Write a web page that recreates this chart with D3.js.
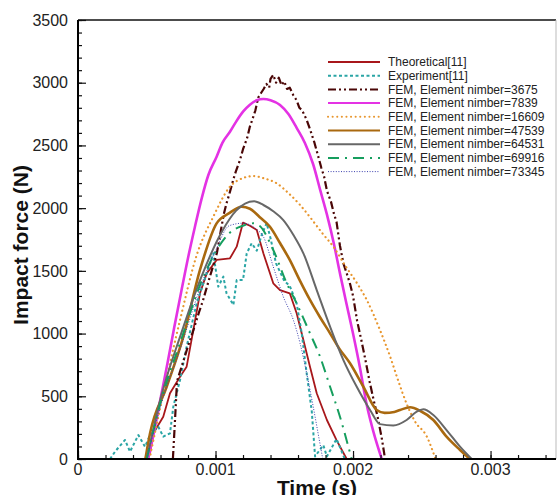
<!DOCTYPE html>
<html lang="en">

<head>
    <meta charset="utf-8">
    <title>impact force</title>
    <script src="https://cdn.jsdelivr.net/npm/d3@7/dist/d3.min.js"></script>
    <style>
        body { margin: 0; background: #fff; }
        text { font-family: Arial, "Liberation Sans", sans-serif; }
    </style>
</head>

<body>
    <script>
        // time in ms, force in N
        var theoretical = [[0.50, 0], [0.524, 48], [0.548, 205], [0.62, 337], [0.669, 524], [0.742, 656], [0.79, 736],
        [0.839, 1029], [0.887, 1321], [0.936, 1480], [1.008, 1587], [1.105, 1600], [1.154, 1693], [1.2, 1885],
        [1.25, 1860], [1.3, 1826], [1.348, 1640], [1.42, 1401], [1.469, 1347], [1.54, 1321], [1.59, 1162],
        [1.639, 949], [1.687, 736], [1.736, 524], [1.81, 311], [1.88, 151], [1.954, 0]];

        var experiment = [[0.233, 0], [0.27, 60], [0.342, 152], [0.378, 58], [0.439, 191], [0.487, 98], [0.524, 191],
        [0.584, 258], [0.62, 178], [0.669, 205], [0.693, 417], [0.742, 630], [0.79, 896], [0.863, 1241],
        [0.936, 1480], [0.984, 1640], [1.02, 1374], [1.057, 1454], [1.08, 1321], [1.13, 1228], [1.154, 1427],
        [1.2, 1427], [1.227, 1640], [1.263, 1720], [1.3, 1660], [1.34, 1800], [1.372, 1880], [1.40, 1760],
        [1.44, 1560], [1.50, 1420], [1.54, 1380], [1.59, 1240], [1.627, 1002], [1.663, 683], [1.70, 380],
        [1.724, 20], [1.75, 60], [1.784, 110], [1.81, 20], [1.88, 160], [1.94, 0]];

        var fem3675 = [[0.69, 0], [0.705, 300], [0.72, 620], [0.76, 760], [0.80, 900], [0.84, 1030], [0.88, 1170],
        [0.91, 1268], [0.95, 1420], [0.98, 1530], [1.01, 1642], [1.04, 1830], [1.06, 1950], [1.08, 2039],
        [1.10, 2110], [1.13, 2230], [1.15, 2300], [1.178, 2384], [1.20, 2470], [1.23, 2560], [1.25, 2650],
        [1.275, 2729], [1.29, 2780], [1.31, 2880], [1.33, 2916], [1.35, 2950], [1.37, 2990], [1.39, 2960],
        [1.40, 3030], [1.42, 3062], [1.44, 3000], [1.46, 3040], [1.48, 2980], [1.50, 3010], [1.52, 2950],
        [1.54, 2960], [1.566, 2900], [1.59, 2860], [1.61, 2800], [1.63, 2780], [1.663, 2703], [1.69, 2620],
        [1.72, 2520], [1.75, 2400], [1.77, 2320], [1.79, 2250], [1.81, 2140], [1.84, 2050], [1.86, 1960],
        [1.88, 1890], [1.905, 1700], [1.93, 1560], [1.96, 1460], [1.98, 1390], [2.0, 1300], [2.03, 1100],
        [2.06, 950], [2.09, 790], [2.12, 620], [2.15, 470], [2.18, 330], [2.21, 160], [2.233, 0]];

        var fem7839 = [[0.51, 0], [0.55, 200], [0.60, 480], [0.65, 760], [0.70, 1050], [0.75, 1330], [0.802, 1613],
        [0.85, 1850], [0.90, 2080], [0.948, 2264], [1.008, 2410], [1.05, 2520], [1.105, 2609], [1.15, 2690],
        [1.2, 2769], [1.25, 2825], [1.30, 2860], [1.348, 2870], [1.40, 2860], [1.469, 2822], [1.53, 2750],
        [1.59, 2640], [1.65, 2520], [1.71, 2350], [1.76, 2150], [1.81, 1950], [1.86, 1720], [1.905, 1480],
        [1.95, 1250], [2.0, 1000], [2.05, 730], [2.1, 430], [2.15, 210], [2.209, 0]];

        var fem16609 = [[0.52, 0], [0.6, 420], [0.742, 1108], [0.863, 1625], [0.984, 1932], [1.105, 2171],
        [1.2, 2240], [1.275, 2256], [1.36, 2235], [1.445, 2198], [1.53, 2120], [1.615, 2025], [1.70, 1910],
        [1.784, 1790], [1.857, 1693], [1.95, 1530], [2.03, 1400], [2.1, 1268], [2.196, 1028], [2.27, 816],
        [2.33, 620], [2.39, 440], [2.45, 300], [2.536, 180], [2.6, 0]];

        var fem47539 = [[0.49, 0], [0.524, 205], [0.645, 576], [0.766, 975], [0.887, 1507], [1.008, 1879],
        [1.1, 1960], [1.19, 2011], [1.25, 1995], [1.32, 1930], [1.396, 1852], [1.47, 1720], [1.54, 1587],
        [1.61, 1430], [1.687, 1268], [1.76, 1130], [1.833, 1002], [1.90, 880], [1.978, 763], [2.075, 576],
        [2.172, 391], [2.23, 368], [2.30, 375], [2.342, 391], [2.415, 412], [2.487, 385], [2.584, 311],
        [2.68, 178], [2.778, 72], [2.85, 0]];

        var fem64531 = [[0.50, 0], [0.6, 480], [0.75, 1000], [0.9, 1460], [1.05, 1820], [1.15, 1980], [1.28, 2055],
        [1.348, 2025], [1.42, 1975], [1.493, 1905], [1.57, 1780], [1.639, 1640], [1.736, 1347], [1.833, 1055],
        [1.93, 789], [2.027, 576], [2.124, 391], [2.196, 278], [2.293, 268], [2.39, 311], [2.463, 377],
        [2.511, 396], [2.584, 351], [2.68, 231], [2.778, 98], [2.863, 0]];

        var fem69916 = [[0.50, 0], [0.6, 450], [0.75, 950], [0.9, 1420], [1.0, 1650], [1.1, 1800], [1.2, 1860],
        [1.275, 1879], [1.32, 1860], [1.42, 1666], [1.518, 1401], [1.59, 1241], [1.687, 1002], [1.76, 816],
        [1.833, 576], [1.905, 337], [1.966, 98], [1.99, 0]];

        var fem73345 = [[0.50, 0], [0.6, 420], [0.75, 900], [0.9, 1400], [1.0, 1660], [1.1, 1860], [1.2, 1880],
        [1.3, 1830], [1.348, 1773], [1.42, 1533], [1.493, 1294], [1.566, 1108], [1.615, 922], [1.663, 683],
        [1.71, 420], [1.75, 180], [1.78, 0]];

        var seriesNames = ['Theoretical[11]', 'Experiment[11]', 'FEM, Element nimber=3675', 'FEM, Element nimber=7839',
            'FEM, Element nimber=16609', 'FEM, Element nimber=47539', 'FEM, Element nimber=64531',
            'FEM, Element nimber=69916', 'FEM, Element nimber=73345'];
        var seriesData = [theoretical, experiment, fem3675, fem7839, fem16609, fem47539, fem64531, fem69916, fem73345];

        var yTicks = [0, 500, 1000, 1500, 2000, 2500, 3000, 3500];
        var xTicks = [0, 1, 2, 3];
        var xTickLabels = ['0', '0.001', '0.002', '0.003'];

        var styles = [
            { color: '#a8171b', width: 1.8, dash: null, smooth: false },
            { color: '#2aa5a5', width: 2, dash: '3,2.5', smooth: false },
            { color: '#4a0606', width: 2.2, dash: '8,3,2,3,2,3', smooth: false },
            { color: '#e432e4', width: 2.6, dash: null, smooth: true },
            { color: '#e8962e', width: 2.2, dash: '0.1,4.5', cap: 'round', smooth: true },
            { color: '#a9690f', width: 2.6, dash: null, smooth: true },
            { color: '#676767', width: 2, dash: null, smooth: true },
            { color: '#169e5e', width: 2, dash: '11,6,2,6', smooth: true },
            { color: '#3b3fae', width: 1, dash: '1,1.6', smooth: true }
        ];

        var svgWidth = 558, svgHeight = 495;
        var plotLeft = 78, plotRight = 556, plotTop = 20, plotBottom = 459;

        var svg = d3.select('body')
            .append('svg')
            .attr('width', svgWidth)
            .attr('height', svgHeight);

        var x = d3.scaleLinear().domain([0, 3.476]).range([plotLeft, plotRight]);
        var y = d3.scaleLinear().domain([0, 3500]).range([plotBottom, plotTop]);

        svg.append('clipPath').attr('id', 'clip')
            .append('rect').attr('x', plotLeft).attr('y', plotTop)
            .attr('width', plotRight - plotLeft).attr('height', plotBottom - plotTop);

        function drawLines() {
            var line = d3.line().x(d => x(d[0])).y(d => y(d[1]));
            var smoothLine = d3.line().x(d => x(d[0])).y(d => y(d[1])).curve(d3.curveMonotoneX);
            svg.append('g')
                .attr('clip-path', 'url(#clip)')
                .selectAll('path')
                .data(seriesData)
                .enter().append('path')
                .attr('d', (d, i) => styles[i].smooth ? smoothLine(d) : line(d))
                .style('fill', 'none')
                .style('stroke', (d, i) => styles[i].color)
                .style('stroke-width', (d, i) => styles[i].width)
                .style('stroke-dasharray', (d, i) => styles[i].dash)
                .style('stroke-linecap', (d, i) => styles[i].cap || 'butt')
                .style('stroke-linejoin', 'round');
        }

        function drawAxes() {
            // frame
            svg.append('line').attr('x1', plotLeft).attr('x2', plotRight).attr('y1', plotTop).attr('y2', plotTop)
                .style('stroke', '#111').style('stroke-width', 1.5);
            svg.append('line').attr('x1', plotRight).attr('x2', plotRight).attr('y1', plotTop).attr('y2', plotBottom)
                .style('stroke', '#bbb').style('stroke-width', 1);

            // inward ticks
            var yAxis = d3.axisRight(y).tickValues(yTicks).tickSize(8).tickFormat('');
            var yMinor = d3.axisRight(y).tickValues(d3.range(0, 3501, 100)).tickSize(4).tickFormat('');
            var xAxis = d3.axisTop(x).tickValues(xTicks).tickSize(8).tickFormat('');
            var xMinor = d3.axisTop(x).tickValues(d3.range(0, 3.45, 0.2)).tickSize(4).tickFormat('');

            [yMinor, yAxis].forEach(a => {
                svg.append('g').attr('transform', `translate(${plotLeft},0)`).call(a)
                    .call(g => g.select('.domain').remove())
                    .selectAll('line').style('stroke', '#111').style('stroke-width', 1.2);
            });
            [xMinor, xAxis].forEach(a => {
                svg.append('g').attr('transform', `translate(0,${plotBottom})`).call(a)
                    .call(g => g.select('.domain').remove())
                    .selectAll('line').style('stroke', '#111').style('stroke-width', 1.2);
            });

            svg.append('line').attr('x1', plotLeft).attr('x2', plotLeft).attr('y1', plotTop).attr('y2', plotBottom + 1)
                .style('stroke', '#000').style('stroke-width', 2);
            svg.append('line').attr('x1', plotLeft - 1).attr('x2', plotRight).attr('y1', plotBottom).attr('y2', plotBottom)
                .style('stroke', '#000').style('stroke-width', 2);

            // labels
            svg.append('g').selectAll('text').data(yTicks).enter().append('text')
                .attr('x', plotLeft - 10).attr('y', d => y(d))
                .attr('dy', '0.36em')
                .attr('text-anchor', 'end')
                .style('font-size', '16px').style('fill', '#222')
                .text(d => d);
            svg.append('g').selectAll('text').data(xTicks).enter().append('text')
                .attr('x', d => x(d)).attr('y', plotBottom + 16)
                .attr('text-anchor', 'middle')
                .style('font-size', '16px').style('fill', '#222')
                .text((d, i) => xTickLabels[i]);

            svg.append('text')
                .attr('transform', `translate(28, 245) rotate(-90)`)
                .attr('text-anchor', 'middle')
                .style('font-size', '21px').style('font-weight', 'bold').style('fill', '#111')
                .text('Impact force (N)');
            svg.append('text')
                .attr('x', (plotLeft + plotRight) / 2).attr('y', 495)
                .attr('text-anchor', 'middle')
                .style('font-size', '21px').style('font-weight', 'bold').style('fill', '#111')
                .text('Time (s)');
        }

        function drawLegend() {
            var g = svg.append('g').selectAll('g')
                .data(seriesNames)
                .enter().append('g')
                .attr('transform', (d, i) => `translate(328, ${62 + i * 13.7})`);
            g.append('line')
                .attr('x1', 0).attr('x2', 52).attr('y1', 0).attr('y2', 0)
                .style('stroke', (d, i) => styles[i].color)
                .style('stroke-width', (d, i) => Math.min(styles[i].width, 2))
                .style('stroke-dasharray', (d, i) => styles[i].dash)
                .style('stroke-linecap', (d, i) => styles[i].cap || 'butt');
            g.append('text')
                .attr('x', 60).attr('y', 0).attr('dy', '0.35em')
                .style('font-size', '12px').style('fill', '#222')
                .text(d => d);
        }

        drawLines();
        drawAxes();
        drawLegend();
    </script>
</body>

</html>
